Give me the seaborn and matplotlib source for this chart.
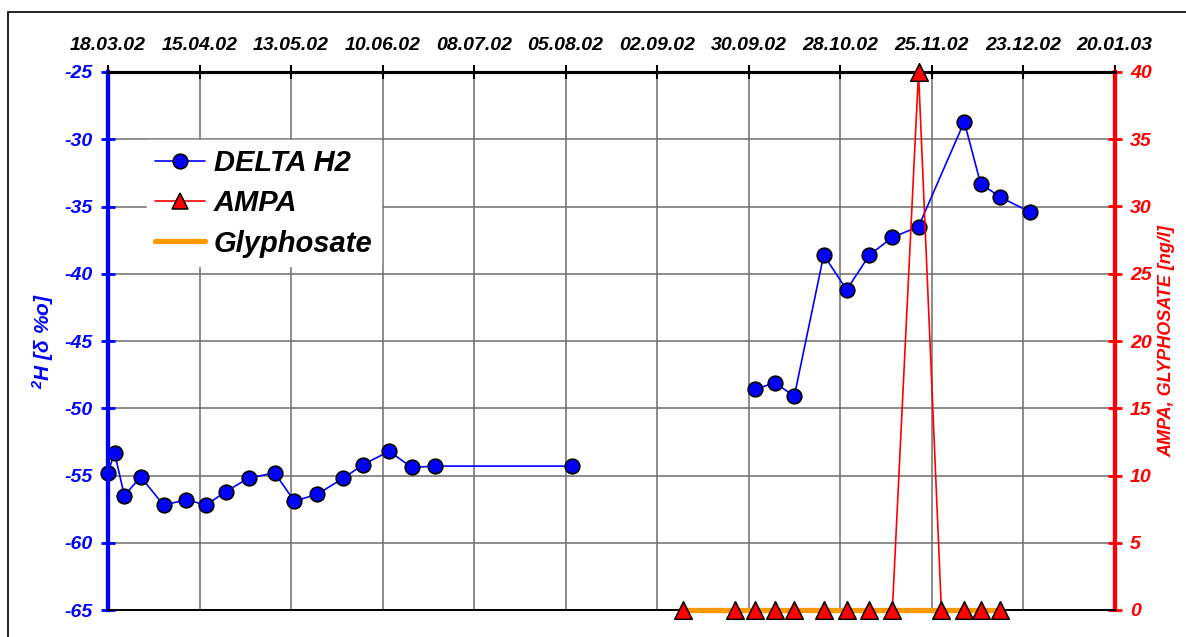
import pandas as pd
import seaborn as sns
import matplotlib.pyplot as plt
from matplotlib.lines import Line2D
from matplotlib.patches import Rectangle

# DELTA H2 - spring / summer samples
h2_dates_a = ["18.03.02", "20.03.02", "23.03.02", "28.03.02", "04.04.02", "11.04.02",
              "17.04.02", "23.04.02", "30.04.02", "08.05.02", "14.05.02", "21.05.02",
              "29.05.02", "04.06.02", "12.06.02", "19.06.02", "26.06.02", "07.08.02"]
h2_vals_a = [-54.8, -53.3, -56.5, -55.1, -57.2, -56.8, -57.2, -56.2, -55.2, -54.8,
             -56.9, -56.4, -55.2, -54.2, -53.2, -54.4, -54.3, -54.3]
# DELTA H2 - autumn samples
h2_dates_b = ["02.10.02", "08.10.02", "14.10.02", "23.10.02", "30.10.02", "06.11.02",
              "13.11.02", "21.11.02", "05.12.02", "10.12.02", "16.12.02", "25.12.02"]
h2_vals_b = [-48.6, -48.1, -49.1, -38.6, -41.2, -38.6, -37.3, -36.5, -28.7, -33.3, -34.3, -35.4]

# AMPA / Glyphosate [ng/l]
pest_dates = ["10.09.02", "26.09.02", "02.10.02", "08.10.02", "14.10.02", "23.10.02", "30.10.02",
              "06.11.02", "13.11.02", "21.11.02", "28.11.02", "05.12.02", "10.12.02", "16.12.02"]
ampa_vals = [0, 0, 0, 0, 0, 0, 0, 0, 0, 40, 0, 0, 0, 0]
glyph_vals = [0, 0, 0, 0, 0, 0, 0, 0, 0, 0, 0, 0, 0, 0]

date_ticks = ["18.03.02", "15.04.02", "13.05.02", "10.06.02", "08.07.02", "05.08.02",
              "02.09.02", "30.09.02", "28.10.02", "25.11.02", "23.12.02", "20.01.03"]
left_ticks = [-25, -30, -35, -40, -45, -50, -55, -60, -65]
right_ticks = [0, 5, 10, 15, 20, 25, 30, 35, 40]

def to_dt(lst):
    return pd.to_datetime(lst, format="%d.%m.%y")

h2a = pd.DataFrame({"date": to_dt(h2_dates_a), "val": h2_vals_a})
h2b = pd.DataFrame({"date": to_dt(h2_dates_b), "val": h2_vals_b})
pest = pd.DataFrame({"date": to_dt(pest_dates), "ampa": ampa_vals, "glyph": glyph_vals})
xt = to_dt(date_ticks)

sns.set_style("white")
plt.rcParams["font.family"] = ["Liberation Sans", "DejaVu Sans"]
plt.rcParams["font.weight"] = "bold"
plt.rcParams["font.style"] = "italic"
plt.rcParams["text.color"] = "black"
plt.rcParams["mathtext.fontset"] = "custom"
plt.rcParams["mathtext.rm"] = "Liberation Sans:bold:italic"
plt.rcParams["mathtext.it"] = "Liberation Sans:bold:italic"

fig = plt.figure(figsize=(11.86, 6.37), dpi=100)
ax = fig.add_axes([108 / 1186, 1 - 610 / 637, (1114.6 - 108) / 1186, (610 - 72) / 637])
ax2 = ax.twinx()

BLUE = "#0000ff"
RED = "#ff0000"
ORANGE = "#ff9900"

# blue series
for d in (h2a, h2b):
    sns.lineplot(data=d, x="date", y="val", ax=ax, sort=False, estimator=None, color=BLUE,
                 lw=1.2, marker="o", markersize=10.5, markerfacecolor=BLUE,
                 markeredgecolor="black", markeredgewidth=1.2, zorder=5, clip_on=False)

# red / orange on right axis
sns.lineplot(data=pest, x="date", y="ampa", ax=ax2, sort=False, estimator=None,
             color=RED, lw=1.2, zorder=2, clip_on=False)
sns.lineplot(data=pest, x="date", y="glyph", ax=ax2, sort=False, estimator=None,
             color=ORANGE, lw=3.8, zorder=3, clip_on=False)
sns.scatterplot(data=pest, x="date", y="ampa", ax=ax2, marker="^", s=160, color=RED,
                edgecolor="black", linewidth=1.1, zorder=4, clip_on=False)

ax.set_xlim(xt[0], xt[-1])
ax.set_ylim(-65, -25)
ax2.set_ylim(0, 40)

ax.set_xticks(xt)
ax.set_xticklabels(date_ticks)
ax.xaxis.set_ticks_position("top")
ax.xaxis.set_label_position("top")
ax.set_yticks(left_ticks)
ax.set_yticklabels([str(v) for v in left_ticks])
ax2.set_yticks(right_ticks)
ax2.set_yticklabels([str(v) for v in right_ticks])

ax.grid(True, color="#6e6e6e", lw=1.1)
ax.set_axisbelow(True)

ax.tick_params(axis="x", direction="inout", length=10, width=1.5, colors="black",
               labelsize=14, pad=8)
ax.tick_params(axis="y", direction="inout", length=10, width=2, colors=BLUE,
               labelsize=14, pad=6)
ax2.tick_params(axis="y", direction="inout", length=10, width=2, colors=RED,
                labelsize=14, pad=6)

for a in (ax, ax2):
    a.spines["top"].set_linewidth(2.2)
    a.spines["top"].set_color("black")
    a.spines["bottom"].set_linewidth(1.3)
    a.spines["bottom"].set_color("black")
    a.spines["left"].set_color(BLUE)
    a.spines["left"].set_linewidth(3)
    a.spines["right"].set_color(RED)
    a.spines["right"].set_linewidth(3)

ax.set_xlabel("")
ax.set_ylabel("$^{2}$H [$\\delta$ %o]", color=BLUE, fontsize=15, fontweight="bold",
              fontstyle="italic", labelpad=6)
ax2.set_ylabel("AMPA, GLYPHOSATE [ng/l]", color=RED, fontsize=13, fontweight="bold",
               fontstyle="italic", labelpad=5)
ax2.set_xlabel("")

handles = [
    Line2D([], [], color=BLUE, lw=1.2, marker="o", markersize=10.5, markerfacecolor=BLUE,
           markeredgecolor="black", markeredgewidth=1.2),
    Line2D([], [], color=RED, lw=1.2, marker="^", markersize=11, markerfacecolor=RED,
           markeredgecolor="black", markeredgewidth=1.1),
    Line2D([], [], color=ORANGE, lw=3.8),
]
leg = ax2.legend(handles, ["DELTA H2", "AMPA", "Glyphosate"], loc="upper left",
                 bbox_to_anchor=(0.024, 0.9), frameon=True, fancybox=False,
                 edgecolor="white", facecolor="white", framealpha=1,
                 prop={"size": 21, "weight": "bold", "style": "italic"},
                 handlelength=1.7, labelspacing=0.42, borderpad=0.3, handletextpad=0.3)
for t in leg.get_texts():
    t.set_color("black")
leg.set_zorder(10)

fig.patches.append(Rectangle((8 / 1186, -0.1), 1.2, 1.1 - 12 / 637, transform=fig.transFigure,
                             fill=False, edgecolor="black", lw=1.2))

fig.savefig("out.png", dpi=100)
